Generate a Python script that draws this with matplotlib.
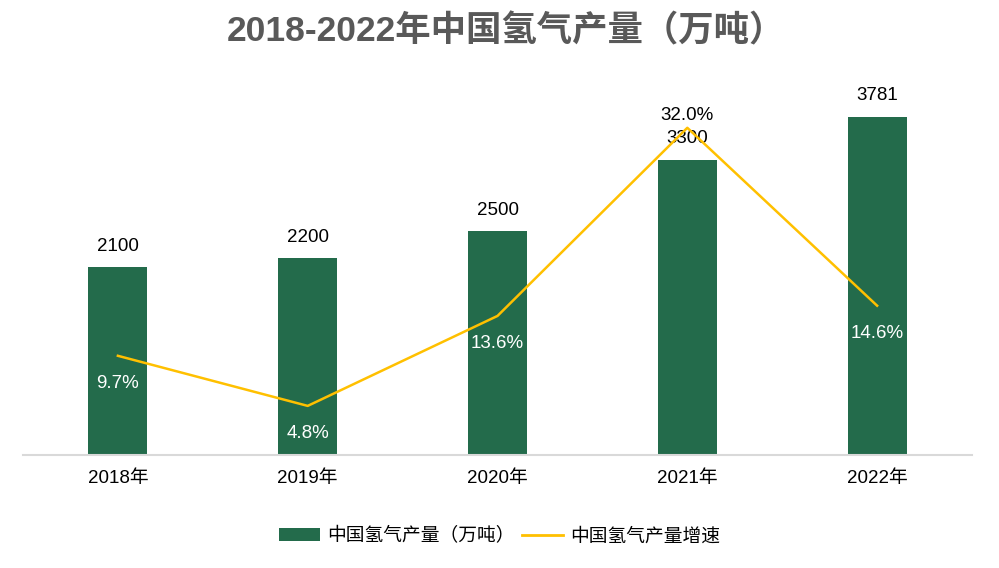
import numpy as np
import matplotlib.pyplot as plt
from matplotlib.lines import Line2D
from matplotlib.patches import Patch

plt.rcParams['font.family'] = ['Liberation Sans', 'Noto Sans CJK SC']

years = ['2018年', '2019年', '2020年', '2021年', '2022年']
output = [2100, 2200, 2500, 3300, 3781]
growth = [9.7, 4.8, 13.6, 32.0, 14.6]
growth_labels = ['9.7%', '4.8%', '13.6%', '32.0%', '14.6%']

green = '#236b4b'
gold = '#ffc000'

fig = plt.figure(figsize=(9.99, 5.68), dpi=100)
ax = fig.add_axes([0.023, 0.199, 0.95, 0.63])
x = np.arange(len(years))

ax.bar(x, output, width=0.31, color=green, zorder=2)
ax.set_xlim(-0.5, 4.5)
ax.set_ylim(0, 4000)
for xi, v in zip(x, output):
    ax.annotate(str(v), (xi, v), xytext=(0, 9), textcoords='offset points',
                ha='center', va='bottom', fontsize=13.5, color='black')

ax2 = ax.twinx()
ax2.plot(x, growth, color=gold, linewidth=1.8, zorder=3)
ax2.set_ylim(0, 35)
for xi, g, lab in zip(x, growth, growth_labels):
    if xi == 3:
        ax2.annotate(lab, (xi, g), xytext=(0, 3), textcoords='offset points',
                     ha='center', va='bottom', fontsize=13.5, color='black')
    else:
        ax2.annotate(lab, (xi, g), xytext=(0, -20), textcoords='offset points',
                     ha='center', va='center', fontsize=13.5, color='white')

for a in (ax, ax2):
    for s in ['top', 'right', 'left']:
        a.spines[s].set_visible(False)
    a.set_yticks([])
ax.spines['bottom'].set_color('#d9d9d9')
ax.spines['bottom'].set_linewidth(1.5)
ax2.spines['bottom'].set_visible(False)
ax.set_xticks(x)
ax.set_xticklabels(years, fontsize=13.5)
ax.tick_params(axis='x', length=0, pad=11)

fig.suptitle('2018-2022年中国氢气产量（万吨）', fontsize=25.5, fontweight='bold',
             color='#595959', x=0.506, y=0.975)

handles = [Patch(facecolor=green, label='中国氢气产量（万吨）'),
           Line2D([0], [0], color=gold, linewidth=2, label='中国氢气产量增速')]
fig.legend(handles=handles, loc='center', bbox_to_anchor=(0.5, 0.056), ncol=2,
           frameon=False, fontsize=13.5, handlelength=2.2, handletextpad=0.4,
           columnspacing=0.35)

fig.savefig('out.png', dpi=100)
